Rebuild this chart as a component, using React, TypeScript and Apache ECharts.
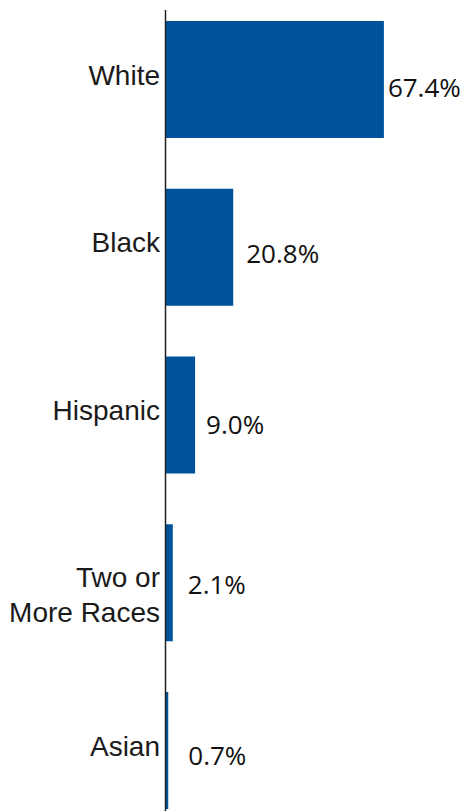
import React, { useEffect, useRef } from "react";
import * as echarts from "echarts";

const categories = ["White", "Black", "Hispanic", "Two or\nMore Races", "Asian"];
const values = [67.4, 20.8, 9.0, 2.1, 0.7];
const valueLabels = ["67.4%", "20.8%", "9.0%", "2.1%", "0.7%"];

// label placement styling (not data)
const valueLabelOffsets = [[4, 8], [13, 6], [11, 9], [15, 1], [20, 4]];
const categoryLabelOffsets = [[0, -4], [0, -5], [0, -5], [0, 12], [0, -4]];

export default function App() {
  const ref = useRef<HTMLDivElement>(null);
  useEffect(() => {
    document.body.style.margin = "0";
    document.body.style.overflow = "hidden";
    if (!ref.current) return;
    const chart = echarts.init(ref.current, undefined, { renderer: "svg" });
    chart.setOption({
      animation: false,
      grid: { left: 166, top: 0.6, width: 300, height: 838.8, containLabel: false },
      xAxis: {
        type: "value",
        min: 0,
        max: 92.8,
        show: false,
      },
      yAxis: {
        type: "category",
        inverse: true,
        data: categories,
        axisLine: { show: false },
        axisTick: { show: false },
        axisLabel: { show: false },
      },
      series: [
        {
          type: "bar",
          barWidth: 117,
          data: values.map((v, i) => ({
            value: v,
            label: {
              offset: valueLabelOffsets[i],
              formatter: valueLabels[i],
            },
          })),
          itemStyle: { color: "#00539b" },
          label: {
            show: true,
            position: "right",
            distance: 0,
            fontFamily: "Open Sans",
            fontSize: 26,
            color: "#111",
          },
        },
        {
          type: "bar",
          barWidth: 117,
          barGap: "-100%",
          silent: true,
          itemStyle: { color: "rgba(0,0,0,0)" },
          data: values.map((v, i) => ({
            value: v,
            label: {
              offset: categoryLabelOffsets[i],
              formatter: categories[i],
            },
          })),
          label: {
            show: true,
            position: "left",
            distance: 6,
            align: "right",
            fontFamily: "Liberation Sans",
            fontSize: 28,
            lineHeight: 35,
            color: "#1a1a1a",
          },
        },
      ],
      graphic: [
        {
          type: "line",
          z: 100,
          shape: { x1: 165.5, y1: 15, x2: 165.5, y2: 816 },
          style: { stroke: "#222", lineWidth: 1.5 },
        },
      ],
    });
    return () => chart.dispose();
  }, []);
  return (
    <div
      ref={ref}
      style={{ position: "absolute", left: 0, top: -5, width: 466, height: 845 }}
    />
  );
}
